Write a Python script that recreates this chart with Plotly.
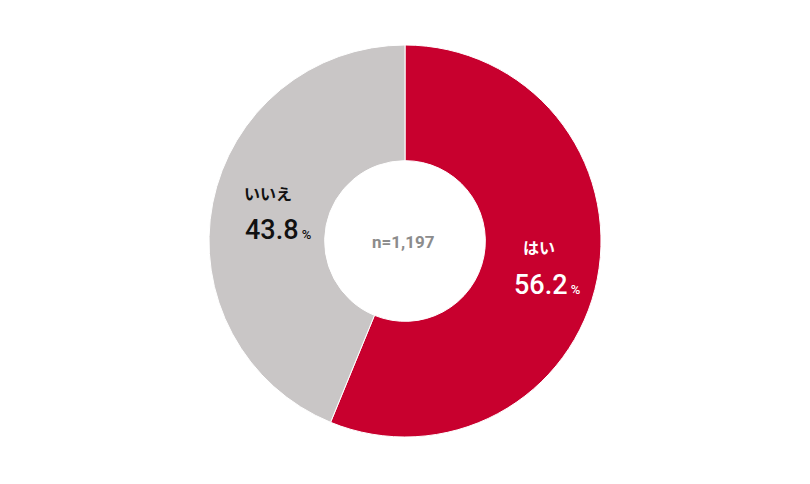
import plotly.graph_objects as go

categories = ["はい", "いいえ"]
values = [56.2, 43.8]
colors = ["#C8002E", "#C9C6C6"]
total_n = "n=1,197"

W, H = 810, 484
OFF = 8  # page body margin compensation
FONT = "Noto Sans CJK JP"
NUMFONT = "Roboto, Noto Sans CJK JP"

cx, cy, R = 405 - OFF, 241 - OFF, 196

fig = go.Figure(go.Pie(
    labels=categories,
    values=values,
    hole=0.41,
    sort=False,
    direction="clockwise",
    rotation=0,
    marker=dict(colors=colors, line=dict(color="white", width=1)),
    textinfo="none",
    hoverinfo="label+percent",
    domain=dict(x=[(cx - R) / W, (cx + R) / W], y=[(H - cy - R) / H, (H - cy + R) / H]),
    showlegend=False,
))

def px(x, y):
    return (x - OFF) / W, 1 - (y - OFF) / H

anns = []
def add(x, y, text, size, color, family=FONT, weight=None):
    ax, ay = px(x, y)
    f = dict(family=family, size=size, color=color)
    if weight:
        f["weight"] = weight
    anns.append(dict(x=ax, y=ay, xref="paper", yref="paper", text=text, showarrow=False,
                     font=f, xanchor="center", yanchor="middle"))

add(539, 247, "<b>" + categories[0] + "</b>", 16, "white")
add(547, 285, f"{values[0]}<span style='font-size:13px'> %</span>", 27, "white", NUMFONT, 500)
add(268, 193, "<b>" + categories[1] + "</b>", 16, "#111111")
add(278, 230, f"{values[1]}<span style='font-size:13px'> %</span>", 27, "#111111", NUMFONT, 500)
add(403, 242, "<b>" + total_n + "</b>", 17, "#8C8C8C", NUMFONT)

fig.update_layout(
    width=W, height=H,
    margin=dict(l=0, r=0, t=0, b=0),
    paper_bgcolor="white", plot_bgcolor="white",
    annotations=anns,
)

fig.write_html("out.html")
